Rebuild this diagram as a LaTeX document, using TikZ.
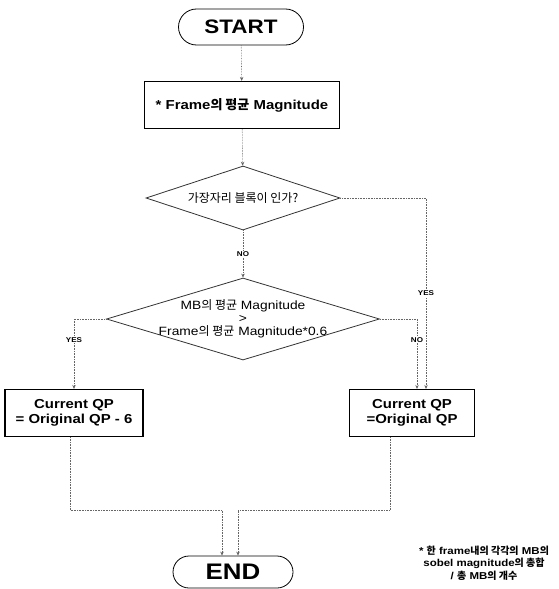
\documentclass[tikz,border=0pt]{standalone}
\usepackage{fontspec}
\setmainfont{Liberation Sans}[FakeStretch=1.15]
\newfontfamily\krfont{Noto Sans CJK KR}
\newcommand{\kr}[1]{{\krfont #1}}
\usetikzlibrary{arrows.meta, positioning, shapes.geometric}

\begin{document}
\begin{tikzpicture}[>={Stealth[length=4pt,width=3.5pt]}, x=1pt, y=-1pt,
    every node/.style={font=\bfseries},
    terminal/.style={rectangle, draw=black, thick, rounded corners=18pt, minimum width=125pt, minimum height=36pt, font=\fontsize{19.5}{22}\selectfont\bfseries},
    block/.style={rectangle, draw=black, very thick, minimum height=47pt, align=center, font=\fontsize{13}{15}\selectfont\bfseries},
    decision/.style={diamond, draw=black!80, thick, inner sep=-6pt, align=center, font=\fontsize{12}{13}\selectfont},
    flow/.style={->, draw=black!60, densely dotted, semithick},
    answer/.style={fill=white, inner sep=1pt, font=\fontsize{7}{8}\selectfont\bfseries},
]
\useasboundingbox (0,0) rectangle (559,589);

% Nodes
\node[terminal] (start) at (241,27) {START};
\node[block, minimum width=195pt] (frame) at (242,105) {* Frame\kr{의 평균} Magnitude};
\node[decision, aspect=3.03, minimum width=194pt, minimum height=64pt] (edge) at (243,198) {\kr{가장자리 블록이 인가?}};
\node[decision, aspect=3.33, minimum width=273pt, minimum height=82pt] (cmp) at (243,319) {MB\kr{의 평균} Magnitude\\>\\Frame\kr{의 평균} Magnitude*0.6};
\node[block, minimum width=138pt] (lowqp) at (74,413) {Current QP\\= Original QP - 6};
\node[block, minimum width=125pt] (keepqp) at (412,413) {Current QP\\=Original QP};
\node[terminal, minimum width=120pt, minimum height=32pt, rounded corners=16pt, font=\fontsize{22.5}{24}\selectfont\bfseries] (end) at (233,572) {END};
\node[font=\fontsize{10}{12.5}\selectfont\bfseries, align=center] (note) at (484,563) {* \kr{한} frame\kr{내의 각각의} MB\kr{의}\\sobel magnitude\kr{의 총합}\\/ \kr{총} MB\kr{의 개수}};

% Edges
\draw[flow] (start) -- (frame);
\draw[flow] (frame) -- (edge);
\draw[flow] (edge.east) -| node[answer, pos=0.75] {YES} ([xshift=14pt]keepqp.north);
\draw[flow] (edge) -- node[answer] {NO} (cmp);
\draw[flow] (cmp.west) -| node[answer, pos=0.65] {YES} (lowqp.north);
\draw[flow] (cmp.east) -| node[answer, pos=0.65] {NO} ([xshift=5pt]keepqp.north);

% Merge into END
\draw[flow] ([xshift=-4pt]lowqp.south) -- ++(0,73) -| ([xshift=-11pt]end.north);
\draw[flow] ([xshift=-22pt]keepqp.south) -- ++(0,73) -| ([xshift=5pt]end.north);

\end{tikzpicture}
\end{document}
